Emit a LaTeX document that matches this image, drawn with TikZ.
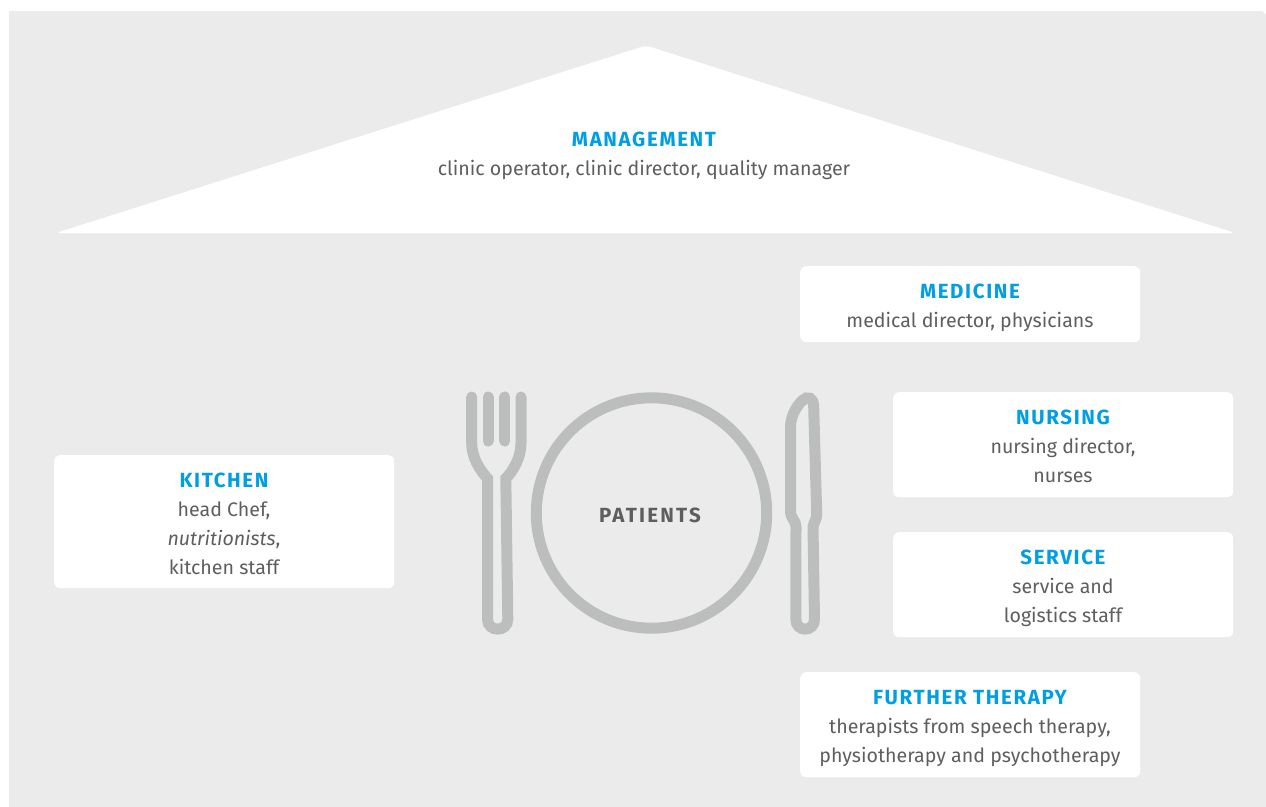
\documentclass[tikz,border=0pt]{standalone}
\usepackage{fontspec}
\setmainfont{Fira Sans}
\definecolor{bgc}{HTML}{EBEBEB}
\definecolor{iconc}{HTML}{BCBEBD}
\definecolor{bluec}{HTML}{009EE3}
\definecolor{textc}{HTML}{5E5E5E}
\newcommand{\hd}[1]{{\fontsize{20.5}{29}\selectfont\bfseries\color{bluec}\addfontfeature{LetterSpace=8}#1}\\}
\tikzset{
  x=1pt,y=-1pt,
  infobox/.style={fill=white,rounded corners=6pt,inner sep=0pt,anchor=north west},
  lbl/.style={inner sep=0pt,align=center,text=textc,font=\fontsize{19.6}{29}\selectfont},
  icon/.style={draw=iconc,line width=11pt,line cap=round,line join=miter,miter limit=10},
}
\begin{document}
\begin{tikzpicture}
\useasboundingbox (0,0) rectangle (1266,806);
\fill[white] (0,0) rectangle (1266,806);
\fill[bgc] (9,11) -- (1262,11) -- (1266,15) -- (1266,830) -- (9,830) -- cycle;
% roof
\fill[white,rounded corners=5pt] (56,233) -- (646,45.5) -- (1235,233) -- cycle;
\node[lbl] (mgmt) at (644,156)
  {\hd{MANAGEMENT}clinic operator, clinic director, quality manager};
% boxes
\node[infobox,minimum width=340pt,minimum height=76pt] (medicine) at (800,266) {};
\node[infobox,minimum width=340pt,minimum height=105pt] (nursing) at (893,392) {};
\node[infobox,minimum width=340pt,minimum height=105pt] (service) at (893,532) {};
\node[infobox,minimum width=340pt,minimum height=105pt] (therapy) at (800,672) {};
\node[infobox,minimum width=340pt,minimum height=133pt] (kitchen) at (54,455) {};
\node[lbl] (medicinetext) at (970,307.5) {\hd{MEDICINE}medical director, physicians};
\node[lbl] (nursingtext) at (1063,446) {\hd{NURSING}nursing director,\\nurses};
\node[lbl] (servicetext) at (1063,588) {\hd{SERVICE}service and\\logistics staff};
\node[lbl] (therapytext) at (970,728) {\hd{FURTHER THERAPY}therapists from speech therapy,\\physiotherapy and psychotherapy};
\node[lbl] (kitchentext) at (224,523.5) {\hd{KITCHEN}head Chef,\\\textit{nutritionists},\\kitchen staff};
% plate
\draw[iconc,line width=11pt] (651.5,513) circle[radius=115.2];
\node[text=textc,font=\bfseries\fontsize{20.5}{24}\selectfont\addfontfeature{LetterSpace=11},inner sep=0pt] (patients) at (650,515) {PATIENTS};
% fork
\draw[icon] (488,397) -- (488,441);
\draw[icon] (504.7,397) -- (504.7,441);
\draw[icon] (471.7,397) -- (471.7,443) .. controls (471.7,458) and (480,470) .. (487.5,478.5)
  -- (487.5,619) .. controls (487.5,632.5) and (507.8,632.5) .. (507.8,619)
  -- (505.8,478.5) .. controls (513,471) and (521,458) .. (521,443) -- (521,397);
% knife
\draw[icon] (796,527) -- (795.8,619) .. controls (795.8,632.5) and (814.5,632.5) .. (814.5,619)
  -- (813,527) .. controls (814,521) and (816.7,520) .. (816.7,514)
  -- (813.7,407) .. controls (813.7,397) and (807,396) .. (803,400)
  .. controls (796,406) and (790.5,417) .. (790.5,427) -- (790.5,511)
  .. controls (790.5,519) and (796,520) .. (796,527);
\end{tikzpicture}
\end{document}
